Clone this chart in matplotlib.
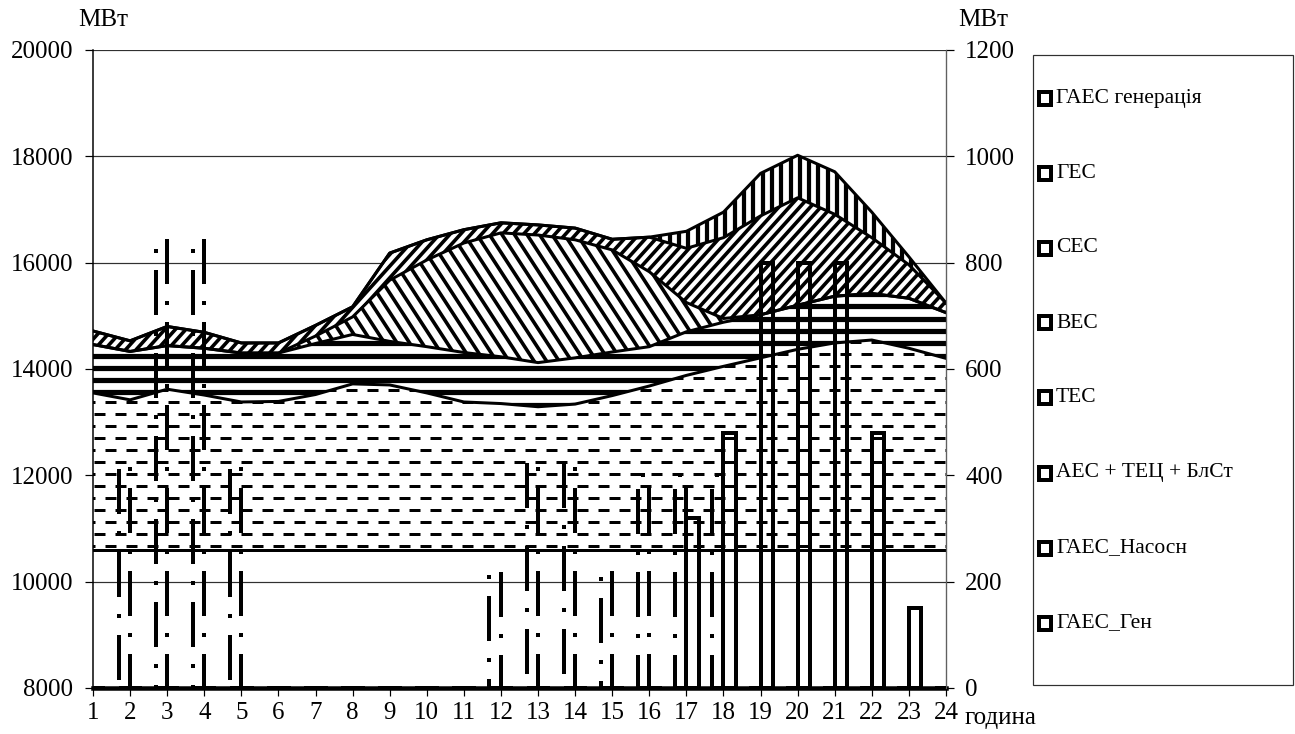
import numpy as np
import matplotlib
matplotlib.use('Agg')
import matplotlib.pyplot as plt
from matplotlib.collections import LineCollection
from matplotlib.transforms import IdentityTransform
from matplotlib.patches import Rectangle

plt.rcParams['font.family'] = ['Liberation Serif', 'DejaVu Serif']
plt.rcParams['lines.scale_dashes'] = False

# ---- data (MW) ----
hours = list(range(1, 25))
aes = [10600] * 24
tes = [2950, 2820, 3020, 2910, 2780, 2790, 2920, 3120, 3100, 2950, 2780, 2750,
       2690, 2740, 2900, 3080, 3280, 3450, 3610, 3770, 3890, 3945, 3790, 3600]
wind = [910, 910, 820, 880, 920, 910, 960, 930, 820, 870, 930, 880,
        830, 870, 820, 740, 820, 830, 810, 830, 880, 875, 940, 860]
solar = [0, 0, 0, 0, 0, 0, 140, 330, 1150, 1630, 2060, 2330,
         2400, 2220, 1920, 1410, 550, 70, 0, 0, 0, 0, 0, 0]
hydro = [255, 200, 360, 300, 190, 190, 200, 190, 510, 380, 250, 190,
         190, 220, 200, 650, 1020, 1520, 1860, 2020, 1540, 1050, 630, 180]
pumped_gen = [0, 0, 0, 0, 0, 0, 0, 0, 0, 0, 0, 0,
              0, 0, 0, 0, 320, 480, 800, 800, 800, 480, 150, 0]
pump_bars = [0, 420, 840, 840, 420, 0, 0, 0, 0, 0, 0, 220,
             425, 425, 220, 400, 400, 400, 0, 0, 0, 0, 0, 0]
gen_bars = [0, 0, 0, 0, 0, 0, 0, 0, 0, 0, 0, 0,
            0, 0, 0, 0, 320, 480, 800, 800, 800, 480, 150, 0]

legend_labels = ['ГАЕС генерація', 'ГЕС', 'СЕС', 'ВЕС', 'ТЕС',
                 'АЕС + ТЕЦ + БлСт', 'ГАЕС_Насосн', 'ГАЕС_Ген']

DPI = 100
W, H = 1295, 734
L, R, T, B = 93, 946, 50, 688


def px(v):
    return v * 72.0 / DPI


fig = plt.figure(figsize=(W / DPI, H / DPI), dpi=DPI)
ax = fig.add_axes([L / W, 1 - B / H, (R - L) / W, (B - T) / H])
ax.set_xlim(1, 24)
ax.set_ylim(8000, 20000)

x = np.array(hours)
l1 = np.array(aes, float)
l2 = l1 + tes
l3 = l2 + wind
l4 = l3 + solar
l5 = l4 + hydro
l6 = l5 + pumped_gen


def stripes(poly, angle, period, width, phase=0.0, dash=None, alt=None):
    # stripe lines in pixel space, clipped to the filled band
    th = np.radians(angle)
    d = np.array([np.cos(th), np.sin(th)])
    n = np.array([-np.sin(th), np.cos(th)])
    corners = np.array([[L, H - B], [R, H - B], [L, H - T], [R, H - T]], float)
    proj = corners @ n
    big = 2000
    k0 = int(np.floor((proj.min() - phase) / period)) - 1
    k1 = int(np.ceil((proj.max() - phase) / period)) + 1
    groups = {0: [], 1: []}
    for k in range(k0, k1 + 1):
        p = phase + k * period
        c = p * n
        if abs(angle) < 1e-6:
            a, b = np.array([0.0, c[1]]), np.array([big, c[1]])
        else:
            a, b = c - big * d, c + big * d
        groups[k % 2].append([a, b])
    for g, segs in groups.items():
        if not segs:
            continue
        if dash is None:
            ls = 'solid'
        else:
            off = 0 if (alt is None or g == 0) else alt
            ls = (px(off), tuple(px(v) for v in dash))
        lc = LineCollection(segs, colors='black', linewidths=px(width),
                            linestyles=[ls], transform=IdentityTransform(),
                            zorder=3)
        lc.set_capstyle('butt')
        ax.add_collection(lc, autolim=False)
        lc.set_clip_path(poly.get_paths()[0], ax.transData)


# bands
ax.fill_between(x, 0, l1, facecolor='none', edgecolor='none', zorder=2)
p_tes = ax.fill_between(x, l1, l2, facecolor='white', edgecolor='none', zorder=2)
p_wind = ax.fill_between(x, l2, l3, facecolor='white', edgecolor='none', zorder=2)
p_solar = ax.fill_between(x, l3, l4, facecolor='white', edgecolor='none', zorder=2)
p_hydro = ax.fill_between(x, l4, l5, facecolor='white', edgecolor='none', zorder=2)
p_gen = ax.fill_between(x, l5, l6, facecolor='white', edgecolor='none', zorder=2)

stripes(p_tes, 0, 12, 3.0, phase=H - 402 + 0.5, dash=(11, 10), alt=11)
stripes(p_wind, 0, 12.3, 5.2, phase=H - 355.5)
stripes(p_solar, -57, 10.5, 3.6)
stripes(p_hydro, 48, 7.8, 3.6)
stripes(p_gen, 90, 9.3, 4.2)

for lev in (l1, l2, l3, l4, l5, l6):
    ax.plot(x, lev, color='black', lw=px(3), zorder=4, solid_joinstyle='round')

ax.set_ylim(8000, 20000)
ax.set_xlim(1, 24)

# grid and axes
ax.set_yticks(range(8000, 20001, 2000))
ax.set_xticks(hours)
ax.yaxis.grid(True, color='#303030', lw=px(1.2), zorder=0)
ax.set_axisbelow(True)
ax.tick_params(axis='y', direction='out', length=px(8), width=px(1.2),
               labelsize=18, pad=px(12))
ax.tick_params(axis='x', direction='out', length=px(8), width=px(1.2),
               labelsize=18, pad=px(6))
ax.spines['top'].set_visible(False)
ax.spines['left'].set_linewidth(px(1.5))
ax.spines['bottom'].set_linewidth(px(4.5))
ax.spines['bottom'].set_zorder(6)

ax2 = ax.twinx()
ax2.set_ylim(0, 1200)
ax2.set_yticks(range(0, 1201, 200))
ax2.tick_params(axis='y', direction='out', length=px(8), width=px(1.2),
                labelsize=18, pad=px(11))
ax2.spines['top'].set_visible(False)
ax2.spines['left'].set_visible(False)
ax2.spines['bottom'].set_visible(False)
ax2.spines['right'].set_color('#606060')
ax2.spines['right'].set_linewidth(px(1.2))

ax2.bar(x - 0.31, pump_bars, width=0.31, align='edge', fill=False,
        edgecolor='black', linewidth=px(4),
        linestyle=(0, (px(45), px(17), px(4), px(17))), zorder=5)
ax2.bar(x, gen_bars, width=0.33, align='edge', fill=False,
        edgecolor='black', linewidth=px(4), zorder=5)
ax2.set_xlim(1, 24)

# axis titles
fig.text(103 / W, 1 - 20 / H, 'МВт', fontsize=18, ha='center', va='center')
fig.text(983 / W, 1 - 20 / H, 'МВт', fontsize=18, ha='center', va='center')
fig.text(965 / W, 1 - 718 / H, 'година', fontsize=18, ha='left', va='center')

# legend box
fig.patches.append(Rectangle((1033 / W, 1 - 685 / H), (1293 - 1033) / W,
                             (685 - 55) / H, transform=fig.transFigure,
                             facecolor='white', edgecolor='#303030',
                             linewidth=px(1.2)))
for i, lab in enumerate(legend_labels):
    yc = 98 + i * 75
    fig.patches.append(Rectangle((1039 / W, 1 - (yc + 6.5) / H), 12 / W, 13 / H,
                                 transform=fig.transFigure, facecolor='white',
                                 edgecolor='black', linewidth=px(4)))
    fig.text(1056 / W, 1 - yc / H, lab, fontsize=15.5, ha='left', va='center')

fig.savefig('out.png', dpi=DPI)
